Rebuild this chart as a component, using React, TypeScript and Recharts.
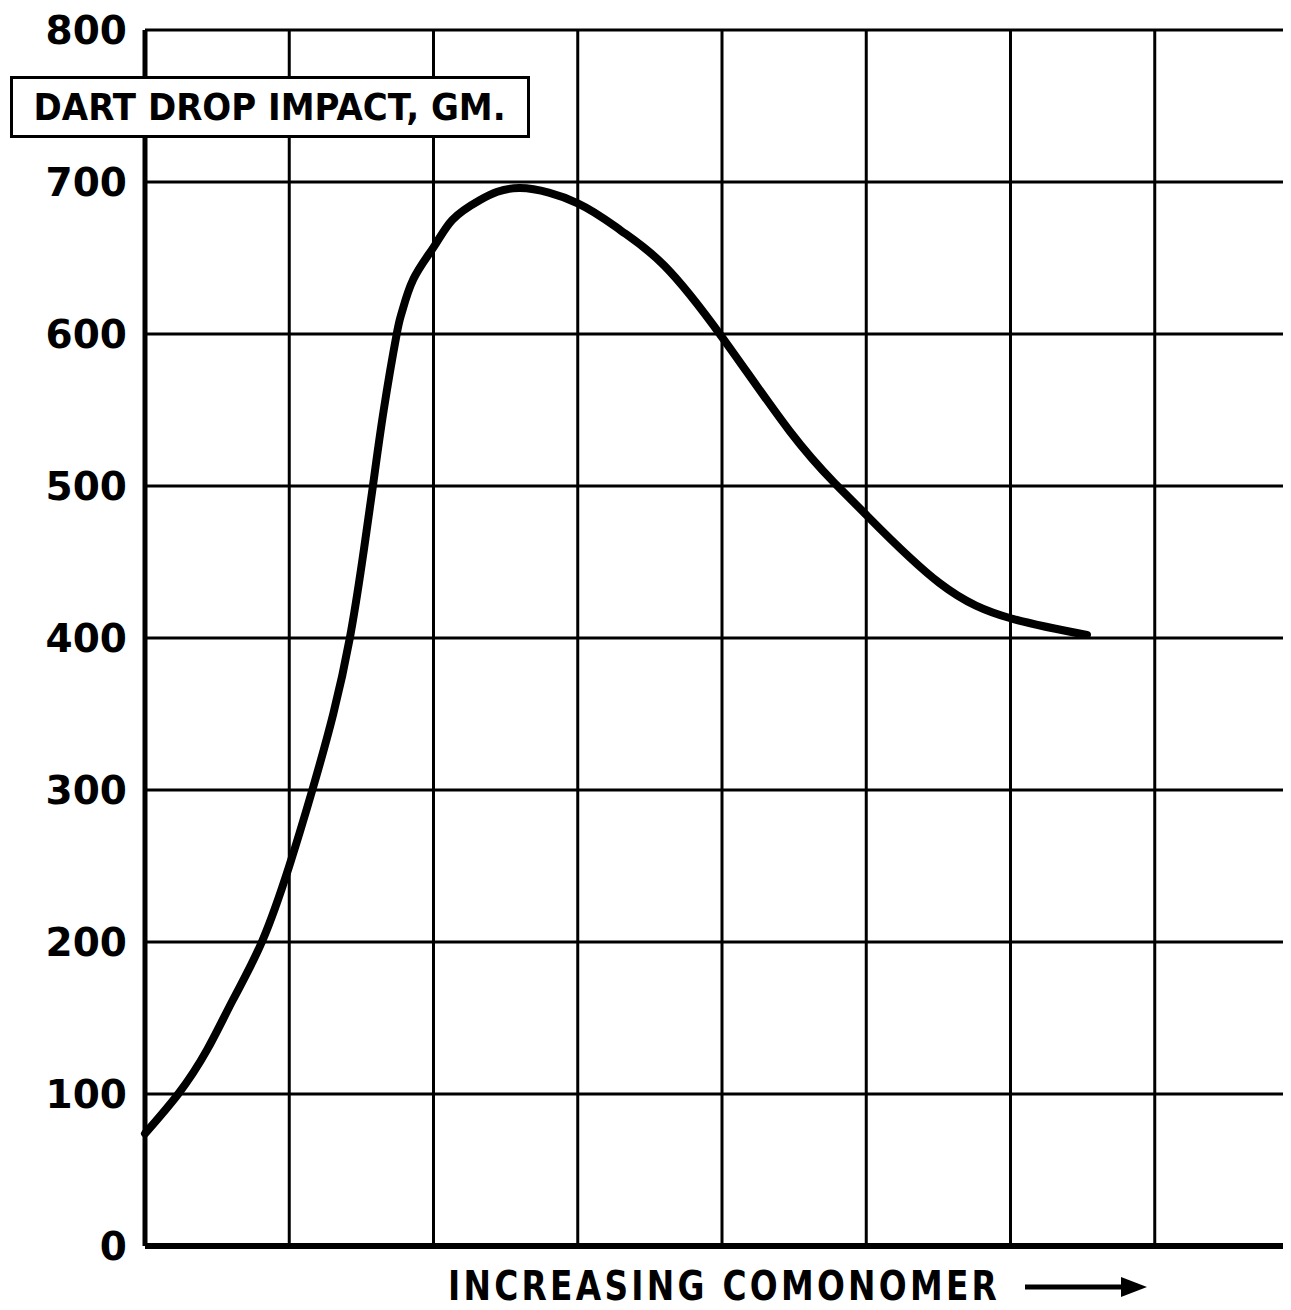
import React from "react";
import { LineChart, Line, XAxis, YAxis, CartesianGrid } from "recharts";

// comonomer level in grid units (no scale on the original)
const comonomer = [
  0, 0.23, 0.43, 0.61, 0.81, 1.0, 1.16, 1.305, 1.42, 1.505, 1.58, 1.655, 1.745,
  1.78, 1.86, 2.0, 2.13, 2.32, 2.6, 3.0, 3.3, 3.6, 4.0, 4.47, 4.78, 5.0, 5.51,
  6.0, 6.53,
];
// dart drop impact, gm.
const impact = [
  74, 100, 129, 162, 200, 250, 300, 350, 400, 450, 500, 550, 600, 614, 636,
  657, 675, 688, 696, 686, 668, 645, 598, 536, 502, 481, 436, 413, 402,
];
const xTicks = [0, 1, 2, 3, 4, 5, 6, 7, 8];
const yTicks = [0, 100, 200, 300, 400, 500, 600, 700, 800];

const data = comonomer.map((x, i) => ({ x, y: impact[i] }));

const FONT = "'DejaVu Sans', sans-serif";

// the x axis has no numbers, but its ticks still place the vertical grid
const NoTick = () => <g />;

export default function App() {
  return (
    <div
      style={{
        position: "relative",
        width: 1283,
        height: 1302,
        overflow: "hidden",
        background: "#fff",
      }}
    >
      <LineChart
        width={1291}
        height={1302}
        data={data}
        margin={{ top: 22, right: 0, bottom: 4, left: 0 }}
      >
        <CartesianGrid stroke="#000" strokeWidth={3} />
        <XAxis
          dataKey="x"
          type="number"
          domain={[0, 8]}
          ticks={xTicks}
          interval={0}
          tick={NoTick}
          tickLine={false}
          height={60}
          axisLine={{ stroke: "#000", strokeWidth: 6 }}
        />
        <YAxis
          type="number"
          domain={[0, 800]}
          ticks={yTicks}
          interval={0}
          width={137}
          tickLine={false}
          tickSize={0}
          tickMargin={18}
          axisLine={{ stroke: "#000", strokeWidth: 5 }}
          tick={{
            fill: "#000",
            fontSize: 39,
            fontWeight: 700,
            fontFamily: FONT,
          }}
        />
        <Line
          dataKey="y"
          type="natural"
          stroke="#000"
          strokeWidth={8}
          strokeLinecap="round"
          dot={false}
          isAnimationActive={false}
        />
      </LineChart>

      <div
        style={{
          position: "absolute",
          left: 2,
          top: 68,
          width: 514,
          height: 56,
          border: "3px solid #000",
          background: "#fff",
          display: "flex",
          alignItems: "center",
          justifyContent: "center",
          overflow: "hidden",
        }}
      >
        <span
          style={{
            fontFamily: FONT,
            fontWeight: 700,
            fontSize: 37,
            whiteSpace: "nowrap",
            display: "inline-block",
            transform: "scaleX(0.92)",
            color: "#000",
          }}
        >
          DART DROP IMPACT, GM.
        </span>
      </div>

      <div
        style={{
          position: "absolute",
          left: 440,
          top: 1256,
          height: 44,
          display: "flex",
          alignItems: "center",
          whiteSpace: "nowrap",
        }}
      >
        <span
          style={{
            fontFamily: FONT,
            fontWeight: 700,
            fontSize: 40,
            letterSpacing: 4,
            display: "inline-block",
            transform: "scaleX(0.82)",
            transformOrigin: "left center",
            color: "#000",
          }}
        >
          INCREASING COMONOMER
        </span>
      </div>
      <svg
        style={{ position: "absolute", left: 1015, top: 1264 }}
        width={130}
        height={30}
      >
        <line x1={2} y1={15} x2={100} y2={15} stroke="#000" strokeWidth={5} />
        <polygon points="98,5 124,15 98,25" fill="#000" />
      </svg>
    </div>
  );
}
